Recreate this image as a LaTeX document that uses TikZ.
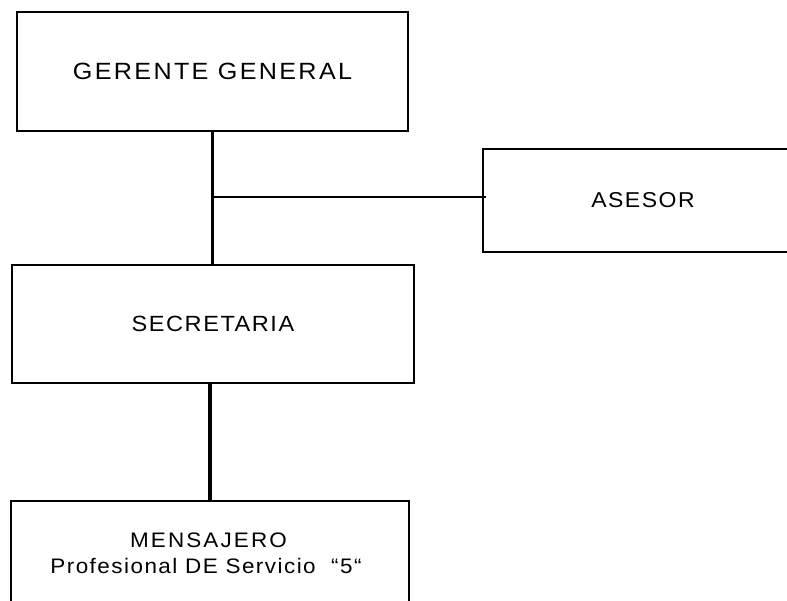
\documentclass[tikz,border=0pt]{standalone}
\usepackage{fontspec}
\usetikzlibrary{calc}
\setmainfont{Liberation Sans}
\newfontfamily\labelfont{Liberation Sans}[FakeStretch=1.07]
\newcommand\track[1]{\addfontfeatures{LetterSpace=#1}}
\begin{document}
\begin{tikzpicture}[x=1pt,y=-1pt,
  orgbox/.style={draw,line width=2pt,inner sep=0pt,align=center,text=black},
  link/.style={line width=3.6pt},
  thinlink/.style={line width=1.8pt}]
\useasboundingbox (0,0) rectangle (787,601);
\clip (0,0) rectangle (787,601);
\fill[white] (0,0) rectangle (787,601);

% boxes
\node[orgbox,minimum width=391pt,minimum height=119pt,
      font=\labelfont\fontsize{23.5}{28}\selectfont\track{10}]
  (gg) at (212.5,71.5) {GERENTE GENERAL};
\node[orgbox,minimum width=320pt,minimum height=103pt,
      font=\labelfont\fontsize{21.5}{26}\selectfont\track{7}]
  (as) at (643,200.5) {ASESOR};
\node[orgbox,minimum width=402pt,minimum height=118pt,
      font=\labelfont\fontsize{22}{26}\selectfont\track{7}]
  (sec) at (213,324) {SECRETARIA};
\node[orgbox,minimum width=398pt,minimum height=104pt,
      font=\labelfont\fontsize{21}{26}\selectfont]
  (men) at (210,553) {{\track{10}MENSAJERO}\hspace*{3pt}\\{\track{7}Profesional DE Servicio\ \ “5“}\hspace*{8pt}};

% connectors
\coordinate (j) at ($(gg.south)!0.49!(gg.south |- sec.north)$);
\draw[link] (gg.south) -- (gg.south |- sec.north);
\draw[thinlink] (j) -- ([xshift=4pt]j -| as.west);
\draw[link] (sec.south -| men.north) -- (men.north);
\end{tikzpicture}
\end{document}
